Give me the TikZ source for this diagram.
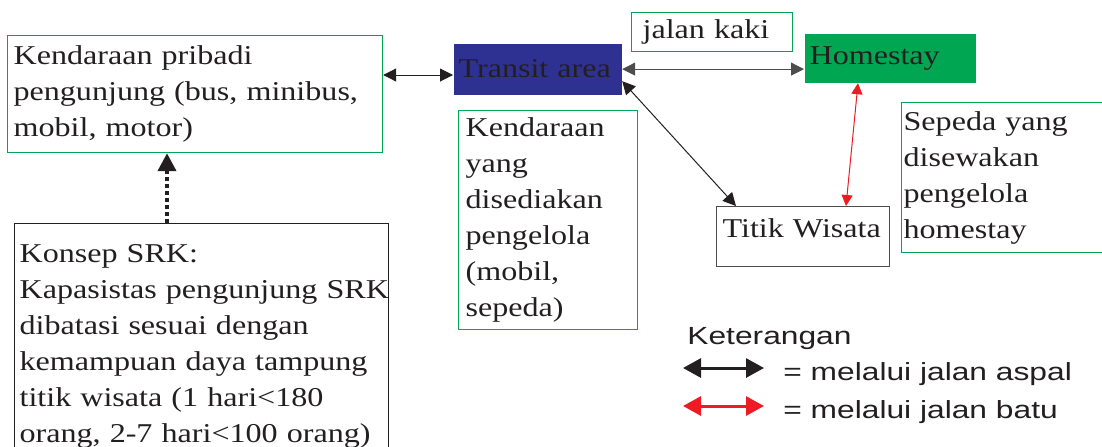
\documentclass[tikz,border=0pt]{standalone}
\usepackage{fontspec}
\setmainfont{Liberation Serif}[FakeStretch=1.18]
\setsansfont{Liberation Sans}[FakeStretch=1.28]
\usepackage{xcolor}
\usetikzlibrary{arrows.meta,positioning}
\definecolor{boxgreen}{RGB}{0,166,81}
\definecolor{transitblue}{RGB}{46,49,146}
\definecolor{ink}{RGB}{35,31,32}
\definecolor{roadred}{RGB}{237,28,36}
\definecolor{roadgray}{RGB}{77,77,77}

\begin{document}
\begin{tikzpicture}[x=0.5pt, y=-0.5pt,
  box/.style={draw=boxgreen, line width=0.6pt, anchor=north west, align=left,
              inner ysep=0pt, text=ink, font=\fontsize{13.6}{18}\selectfont},
  plain/.style={box, draw=ink},
  aspal/.style={ink, line width=0.5pt, {Triangle[length=6.5pt,width=6.5pt]}-{Triangle[length=6.5pt,width=6.5pt]}},
  batu/.style={roadred, line width=0.5pt, {Triangle[length=5.5pt,width=5.5pt]}-{Triangle[length=5.5pt,width=5.5pt]}},
  legend/.style={text=ink, inner sep=0pt, font=\sffamily\fontsize{12.4}{15}\selectfont}]
\useasboundingbox (0,0) rectangle (1102,446);

% boxes
\node[box, inner xsep=3pt, text width=181.5pt, minimum height=58.5pt] (pribadi) at (7,35)
  {Kendaraan pribadi\\pengunjung (bus, minibus,\\mobil, motor)};
\node[box, draw=none, fill=transitblue, inner xsep=2.5pt, text width=79pt, minimum height=25.5pt] (transit) at (453,43)
  {Transit area};
\node[box, inner xsep=5.5pt, text width=69.5pt, minimum height=19.5pt] (kaki) at (631,12)
  {jalan kaki};
\node[box, draw=none, fill=boxgreen, inner xsep=2.5pt, text width=80.5pt, minimum height=24.5pt] (homestay) at (804,33)
  {Homestay};
\node[box, inner xsep=3.5pt, text width=82.5pt, minimum height=109.5pt] (disediakan) at (458,110)
  {Kendaraan\\yang\\disediakan\\pengelola\\(mobil,\\sepeda)};
\node[plain, draw=roadgray, inner xsep=3pt, text width=80.5pt, text height=15.5pt, text depth=14.5pt] (titik) at (716,206)
  {Titik Wisata};
\node[box, inner xsep=1pt, text width=100.5pt, minimum height=75pt] (sepeda) at (901,102)
  {Sepeda yang\\disewakan\\pengelola\\homestay};
\node[plain, inner xsep=2.5pt, text width=182pt, minimum height=123pt] (srk) at (14,223)
  {Konsep SRK:\\\mbox{Kapasistas pengunjung SRK}\\dibatasi sesuai dengan\\kemampuan daya tampung\\titik wisata (1 hari<180\\\mbox{orang, 2-7 hari<100 orang)}};

% connectors
\coordinate (r1) at (0,75);
\coordinate (d1) at (167,0);
\draw[aspal] (pribadi.east |- r1) -- (transit.west |- r1);
\draw[aspal, roadgray] (transit.east) -- (homestay.west |- transit.east);
\draw[aspal] ([yshift=7pt]transit.south east) -- ([xshift=10pt]titik.north west);
\draw[batu] ([xshift=27pt]homestay.south west) -- ([xshift=65pt]titik.north west);
\draw[ink, line width=2pt, dash pattern=on 2pt off 1.5pt, -{Triangle[length=9pt,width=9pt]}]
  (srk.north -| d1) -- (pribadi.south -| d1);

% legend
\node[legend, anchor=base west] (ket) at (687,344) {Keterangan};
\foreach \c/\y/\t in {ink/368/aspal, roadred/406/batu} {
  \coordinate (l\t) at (683,\y);
  \coordinate (r\t) at (764,\y);
  \draw[\c, line width=1.5pt, {Triangle[length=9pt,width=9.5pt]}-{Triangle[length=9pt,width=9.5pt]}] (l\t) -- (r\t);
  \node[legend, anchor=base west] at (783,\y+12) {= melalui jalan \t};
}
\end{tikzpicture}
\end{document}
